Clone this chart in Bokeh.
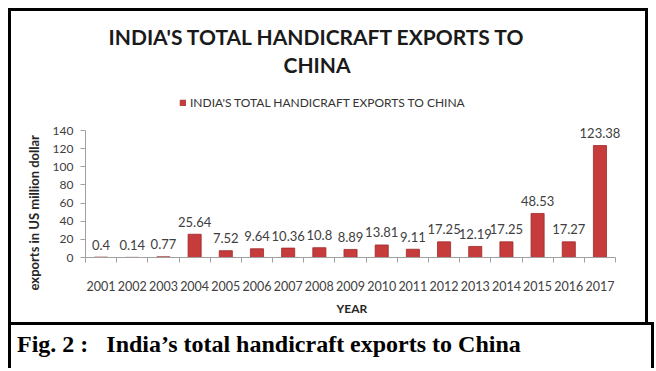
from bokeh.plotting import figure
from bokeh.models import (FixedTicker, Range1d, ColumnDataSource, Title, Legend, LegendItem, Div)
from bokeh.layouts import column
from bokeh.core.properties import value
from bokeh.embed import file_html
from bokeh.resources import INLINE

# ---- data ----
years = ["2001", "2002", "2003", "2004", "2005", "2006", "2007", "2008", "2009",
         "2010", "2011", "2012", "2013", "2014", "2015", "2016", "2017"]
exports = [0.4, 0.14, 0.77, 25.64, 7.52, 9.64, 10.36, 10.8, 8.89,
           13.81, 9.11, 17.25, 12.19, 17.25, 48.53, 17.27, 123.38]
value_labels = ["0.4", "0.14", "0.77", "25.64", "7.52", "9.64", "10.36", "10.8", "8.89",
                "13.81", "9.11", "17.25", "12.19", "17.25", "48.53", "17.27", "123.38"]
y_ticks = [0, 20, 40, 60, 80, 100, 120, 140]
title_line1 = "INDIA'S TOTAL HANDICRAFT EXPORTS TO"
title_line2 = "CHINA"
legend_text = "INDIA'S TOTAL HANDICRAFT EXPORTS TO CHINA"
y_label = "exports in US million dollar"
x_label = "YEAR"
caption = "Fig. 2 :&nbsp;&nbsp;&nbsp;India\u2019s total handicraft exports to China"

FONT = "Lato"
BAR = "#C63B3B"
BORDER = "3px solid black"

n = len(years)
xc = [i + 0.5 for i in range(n)]
src = ColumnDataSource(dict(x=xc, top=exports, lab=value_labels))

p = figure(width=640, height=314, output_backend="svg", toolbar_location=None,
           x_range=Range1d(0, n + 0.8), y_range=Range1d(0, 186.3),
           min_border_left=74, min_border_right=11, min_border_top=77,
           min_border_bottom=68,
           styles={"border-top": BORDER, "border-left": BORDER, "border-right": BORDER})
p.outline_line_color = None
p.xgrid.visible = False
p.ygrid.visible = False

bars = p.vbar(x="x", top="top", width=0.42, bottom=0, source=src,
              fill_color=BAR, line_color="#A02828", line_width=0.8)
p.text(x="x", y="top", text="lab", source=src, text_align="center",
       text_baseline="middle", y_offset=-12.5, text_font=value(FONT),
       text_font_size="13px", text_color="#404040")

legend = Legend(items=[LegendItem(label=legend_text, renderers=[bars])],
                location=(94, 147), orientation="horizontal",
                glyph_width=7, glyph_height=7, label_height=13, label_standoff=4,
                padding=2, margin=0, spacing=0,
                label_text_font=FONT, label_text_font_size="12px",
                label_text_color="#333333",
                border_line_color=None, background_fill_alpha=0)
p.add_layout(legend, "center")

# x axis: ticks at category boundaries, labels at centres
xa = p.xaxis[0]
xa.bounds = (0, n)
xa.ticker = FixedTicker(ticks=xc, minor_ticks=list(range(n + 1)))
xa.major_label_overrides = {x: y for x, y in zip(xc, years)}
xa.major_tick_out = 0
xa.major_tick_in = 0
xa.minor_tick_out = 5
xa.minor_tick_in = 0
xa.minor_tick_line_color = "#A0A0A0"
xa.axis_line_color = "#A0A0A0"
xa.major_label_standoff = 18
xa.major_label_text_font = FONT
xa.major_label_text_font_size = "12.5px"
xa.major_label_text_color = "#404040"

ya = p.yaxis[0]
ya.ticker = FixedTicker(ticks=y_ticks, minor_ticks=[])
ya.bounds = (0, 140)
ya.major_tick_out = 5
ya.major_tick_in = 0
ya.minor_tick_out = 0
ya.minor_tick_in = 0
ya.major_tick_line_color = "#A0A0A0"
ya.axis_line_color = "#A0A0A0"
ya.major_label_standoff = 7
ya.major_label_text_font = FONT
ya.major_label_text_font_size = "12px"
ya.major_label_text_color = "#404040"

p.add_layout(Title(text=x_label, align="left", offset=251, standoff=10,
                   text_font=FONT, text_font_size="12px", text_font_style="bold",
                   text_color="#262626"), "below")

p.add_layout(Title(text=y_label, align="left", offset=-33, standoff=16,
                   text_font=FONT, text_font_size="13px", text_font_style="bold",
                   text_color="#262626"), "left")

p.add_layout(Title(text=title_line2, align="left", offset=198, standoff=24,
                   text_font=FONT, text_font_size="21px", text_font_style="bold",
                   text_color="#1a1a1a"), "above")
p.add_layout(Title(text=title_line1, align="left", offset=23, standoff=-22,
                   text_font=FONT, text_font_size="21px", text_font_style="bold",
                   text_color="#1a1a1a"), "above")

cap = Div(text=caption, width=646, height=46, margin=0,
          styles={"border-top": BORDER, "border-left": BORDER, "border-right": BORDER,
                  "font-family": "Liberation Serif", "font-weight": "bold",
                  "font-size": "24px", "padding-left": "6px", "padding-top": "5px",
                  "color": "black", "box-sizing": "border-box", "line-height": "28px"})

layout = column(p, cap, spacing=0, margin=(8, 0, 0, 8))

open("out.html", "w").write(file_html(layout, INLINE))
